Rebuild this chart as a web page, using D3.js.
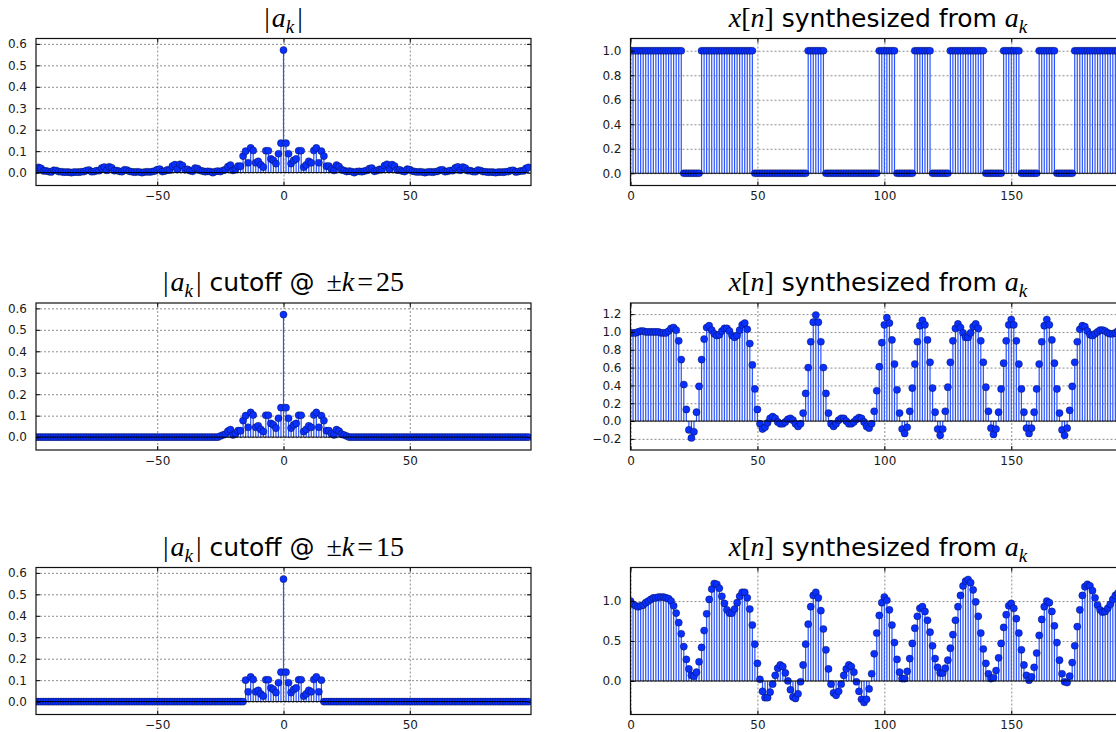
<!DOCTYPE html>
<meta charset="utf-8">
<title>Fourier coefficients and truncated synthesis</title>
<style>
body {
  margin: 0;
  background: #fff;
}
text {
  font-family: "DejaVu Sans", sans-serif;
}
.tick text {
  font-size: 12px;
  fill: #1a1a1a;
}
.grid line {
  stroke: #6e6e6e;
  stroke-width: 0.8;
  stroke-dasharray: 2,2;
}
.grid path, .axis path {
  display: none;
}
.axis line {
  stroke: #000;
}
.title {
  font-size: 25px;
  fill: #000;
}
.math {
  font-family: "Liberation Serif", "DejaVu Serif", serif;
  font-size: 28px;
}
</style>
<body>
<div id="chart"></div>

<script src="https://d3js.org/d3.v7.min.js"></script>
<script>
// Set dimensions
const width = 1116;
const height = 732;

// x[n], n = 0..195: runs of samples equal to 1
const N = 196;
const onesRuns = [[0, 20], [28, 48], [70, 76], [98, 104], [112, 118],
                  [126, 139], [147, 153], [161, 167], [175, 195]];

// |a_k| for k = 0..98 (the spectrum is symmetric, |a_-k| = |a_k|)
const akMag = [
  0.571, 0.137, 0.088, 0.042, 0.057, 0.064, 0.102, 0.102, 0.026, 0.036,
  0.053, 0.046, 0.103, 0.115, 0.046, 0.100, 0.077, 0.030, 0.030, 0.017,
  0.010, 0.035, 0.028, 0.014, 0.010, 0.005, 0.007, 0.005, 0.000, 0.005,
  0.006, 0.004, 0.007, 0.010, 0.019, 0.021, 0.006, 0.009, 0.015, 0.014,
  0.033, 0.039, 0.016, 0.037, 0.030, 0.012, 0.013, 0.007, 0.005, 0.016,
  0.014, 0.007, 0.005, 0.003, 0.004, 0.003, 0.000, 0.003, 0.004, 0.002,
  0.004, 0.006, 0.012, 0.013, 0.004, 0.006, 0.010, 0.009, 0.022, 0.027,
  0.011, 0.026, 0.021, 0.009, 0.009, 0.005, 0.004, 0.012, 0.010, 0.005,
  0.004, 0.002, 0.003, 0.002, 0.000, 0.002, 0.003, 0.002, 0.004, 0.005,
  0.010, 0.011, 0.003, 0.005, 0.008, 0.008, 0.020, 0.024, 0.010
];

// cutoff |k| for each row (null = keep every coefficient)
const cutoffs = [null, 25, 15];

// x[n] synthesized from a_k with |k| <= 25
const synth25 = [
  0.99, 0.99, 0.99, 1.00, 1.01, 1.01, 1.00, 1.00, 1.00, 1.00,
  1.00, 1.00, 0.99, 0.99, 0.99, 1.01, 1.04, 1.05, 1.02, 0.90,
  0.69, 0.41, 0.13, -0.10, -0.19, -0.12, 0.10, 0.39, 0.69, 0.92,
  1.05, 1.07, 1.02, 0.98, 0.96, 0.97, 1.01, 1.04, 1.04, 1.01,
  0.96, 0.94, 0.96, 1.02, 1.08, 1.10, 1.03, 0.87, 0.63, 0.36,
  0.13, -0.03, -0.09, -0.07, -0.02, 0.03, 0.05, 0.03, -0.01, -0.03,
  -0.03, -0.01, 0.02, 0.03, 0.01, -0.03, -0.06, -0.03, 0.09, 0.31,
  0.60, 0.89, 1.11, 1.19, 1.11, 0.89, 0.60, 0.31, 0.09, -0.03,
  -0.06, -0.03, 0.01, 0.03, 0.03, 0.00, -0.03, -0.03, -0.01, 0.02,
  0.04, 0.03, -0.01, -0.06, -0.08, -0.03, 0.11, 0.34, 0.61, 0.88,
  1.08, 1.16, 1.10, 0.91, 0.64, 0.35, 0.09, -0.09, -0.14, -0.07,
  0.11, 0.37, 0.64, 0.89, 1.07, 1.13, 1.08, 0.91, 0.66, 0.37,
  0.10, -0.09, -0.16, -0.09, 0.11, 0.38, 0.66, 0.90, 1.04, 1.09,
  1.05, 0.99, 0.94, 0.94, 0.99, 1.06, 1.09, 1.04, 0.90, 0.66,
  0.38, 0.11, -0.08, -0.15, -0.09, 0.10, 0.36, 0.65, 0.90, 1.08,
  1.14, 1.08, 0.90, 0.64, 0.36, 0.10, -0.08, -0.14, -0.08, 0.10,
  0.36, 0.64, 0.89, 1.07, 1.14, 1.08, 0.91, 0.65, 0.36, 0.09,
  -0.10, -0.16, -0.08, 0.12, 0.39, 0.66, 0.89, 1.03, 1.07, 1.06,
  1.01, 0.97, 0.96, 0.98, 1.00, 1.02, 1.02, 1.01, 0.99, 0.98,
  0.98, 0.99, 1.01, 1.01, 1.01, 1.00
];

// x[n] synthesized from a_k with |k| <= 15
const synth15 = [
  1.00, 0.96, 0.94, 0.93, 0.94, 0.95, 0.98, 1.00, 1.02, 1.04,
  1.04, 1.05, 1.05, 1.05, 1.04, 1.03, 1.00, 0.94, 0.85, 0.73,
  0.59, 0.43, 0.27, 0.15, 0.07, 0.06, 0.11, 0.24, 0.42, 0.63,
  0.84, 1.02, 1.15, 1.22, 1.21, 1.16, 1.06, 0.97, 0.89, 0.85,
  0.85, 0.90, 0.98, 1.06, 1.11, 1.11, 1.04, 0.90, 0.70, 0.46,
  0.22, 0.02, -0.13, -0.21, -0.21, -0.14, -0.04, 0.07, 0.16, 0.20,
  0.18, 0.10, 0.00, -0.11, -0.20, -0.22, -0.16, -0.01, 0.20, 0.46,
  0.71, 0.93, 1.07, 1.11, 1.04, 0.88, 0.65, 0.39, 0.15, -0.04,
  -0.15, -0.18, -0.13, -0.04, 0.07, 0.15, 0.20, 0.18, 0.11, -0.01,
  -0.13, -0.23, -0.27, -0.23, -0.10, 0.09, 0.34, 0.60, 0.82, 0.98,
  1.05, 1.01, 0.89, 0.70, 0.48, 0.27, 0.11, 0.03, 0.03, 0.12,
  0.28, 0.47, 0.66, 0.81, 0.91, 0.93, 0.87, 0.76, 0.61, 0.44,
  0.28, 0.17, 0.10, 0.10, 0.16, 0.26, 0.41, 0.58, 0.76, 0.93,
  1.07, 1.19, 1.25, 1.27, 1.23, 1.14, 0.99, 0.81, 0.60, 0.40,
  0.22, 0.09, 0.03, 0.04, 0.13, 0.29, 0.47, 0.67, 0.83, 0.94,
  0.97, 0.91, 0.78, 0.60, 0.39, 0.20, 0.07, 0.01, 0.05, 0.17,
  0.35, 0.57, 0.77, 0.93, 1.00, 0.98, 0.87, 0.69, 0.48, 0.26,
  0.09, -0.01, -0.02, 0.06, 0.23, 0.44, 0.68, 0.89, 1.07, 1.18,
  1.21, 1.19, 1.13, 1.04, 0.95, 0.89, 0.86, 0.87, 0.91, 0.96,
  1.02, 1.07, 1.10, 1.10, 1.08, 1.04
];

// Axis ticks
const kTicks = [-50, 0, 50];
const nTicks = [0, 50, 100, 150];
const akYTicks = [0, 0.1, 0.2, 0.3, 0.4, 0.5, 0.6];
const xnYTicks = [
  [0, 0.2, 0.4, 0.6, 0.8, 1.0],
  [-0.2, 0, 0.2, 0.4, 0.6, 0.8, 1.0, 1.2],
  [0, 0.5, 1.0]
];

// Layout (pixels)
const leftX0 = 36;
const rightX0 = 630.5;
const axW = 495;
const axH = 147;
const rowTops = [38.5, 303, 567.5];
const akYDomain = [-0.06, 0.625];
const xnYDomains = [[-0.1, 1.1], [-0.325, 1.325], [-0.42, 1.42]];

// Build the sample tables
const xn = d3.range(N).map(n => ({
  i: n,
  v: onesRuns.some(([a, b]) => n >= a && n <= b) ? 1 : 0
}));
const kRange = d3.range(-N / 2, N / 2);
const xnRows = [xn, synth25.map((v, i) => ({i, v})), synth15.map((v, i) => ({i, v}))];

const svg = d3.select("#chart")
  .append("svg")
    .attr("width", width)
    .attr("height", height);

// Title made of sans-serif and math pieces
function title(g, cx, y, parts) {
  const t = g.append("text")
      .attr("class", "title")
      .attr("x", cx)
      .attr("y", y)
      .attr("text-anchor", "middle");
  let shift = 0;
  parts.forEach(p => {
    const s = t.append("tspan").text(p.t);
    let dy = -shift;
    shift = 0;
    if (p.m) s.attr("class", "math");
    if (p.i) s.style("font-style", "italic");
    if (p.dx) s.attr("dx", p.dx);
    if (p.sub) {
      s.style("font-size", "19px");
      dy += 6;
      shift = 6;
    }
    if (dy) s.attr("dy", dy);
  });
}

const akTitle = [{t: "|", m: 1}, {t: "a", m: 1, i: 1, dx: 2}, {t: "k", m: 1, i: 1, sub: 1},
                 {t: "|", m: 1, dx: 3}];
const xnTitle = [{t: "x", m: 1, i: 1}, {t: "[", m: 1}, {t: "n", m: 1, i: 1}, {t: "]", m: 1},
                 {t: " synthesized from "}, {t: "a", m: 1, i: 1}, {t: "k", m: 1, i: 1, sub: 1}];

function stemPanel(x0, y0, data, xDomain, yDomain, xTicks, yTicks, yFmt, titleParts) {
  const x = d3.scaleLinear().domain(xDomain).range([0, axW]);
  const y = d3.scaleLinear().domain(yDomain).range([axH, 0]);
  const g = svg.append("g").attr("transform", `translate(${x0},${y0})`);

  // grid
  g.append("g").attr("class", "grid")
      .call(d3.axisBottom(x).tickValues(xTicks).tickSize(axH).tickFormat(""));
  g.append("g").attr("class", "grid")
      .call(d3.axisLeft(y).tickValues(yTicks).tickSize(-axW).tickFormat(""));

  const clip = ("clip" + x0 + "_" + y0).replace(/\./g, "_");
  g.append("clipPath").attr("id", clip)
    .append("rect").attr("width", axW).attr("height", axH);
  const plot = g.append("g").attr("clip-path", `url(#${clip})`);

  // stems
  plot.selectAll("line.stem")
    .data(data)
    .enter().append("line")
      .attr("class", "stem")
      .attr("x1", d => x(d.i))
      .attr("x2", d => x(d.i))
      .attr("y1", y(0))
      .attr("y2", d => y(d.v))
      .attr("stroke", "#2a52ff")
      .attr("stroke-width", 1.2);

  // markers
  plot.selectAll("circle")
    .data(data)
    .enter().append("circle")
      .attr("cx", d => x(d.i))
      .attr("cy", d => y(d.v))
      .attr("r", 3.6)
      .attr("fill", "#0a30ff")
      .attr("stroke", "#000")
      .attr("stroke-width", 0.6)
      .attr("stroke-opacity", 0.55);

  // baseline
  plot.append("line")
      .attr("x1", x(d3.min(data, d => d.i)))
      .attr("x2", x(d3.max(data, d => d.i)))
      .attr("y1", y(0))
      .attr("y2", y(0))
      .attr("stroke", "#000")
      .attr("stroke-width", 1);

  // inward ticks on all four sides
  g.append("g").attr("class", "axis")
      .attr("transform", `translate(0,${axH})`)
      .call(d3.axisBottom(x).tickValues(xTicks).tickSize(-4).tickPadding(6).tickFormat(d3.format("d")));
  g.append("g").attr("class", "axis")
      .call(d3.axisTop(x).tickValues(xTicks).tickSize(-4).tickFormat(""));
  g.append("g").attr("class", "axis")
      .call(d3.axisLeft(y).tickValues(yTicks).tickSize(-4).tickPadding(9).tickFormat(yFmt));
  g.append("g").attr("class", "axis")
      .attr("transform", `translate(${axW},0)`)
      .call(d3.axisRight(y).tickValues(yTicks).tickSize(-4).tickFormat(""));
  g.selectAll(".axis .tick text").style("font-family", "DejaVu Sans, sans-serif");

  // frame
  g.append("rect")
      .attr("width", axW)
      .attr("height", axH)
      .attr("fill", "none")
      .attr("stroke", "#111")
      .attr("stroke-width", 1.2);

  title(svg, x0 + axW / 2, y0 - 12, titleParts);
}

rowTops.forEach((top, r) => {
  const K = cutoffs[r];
  const akData = kRange.map(k => ({
    i: k,
    v: K === null || Math.abs(k) <= K ? akMag[Math.abs(k)] : 0
  }));
  const leftTitle = K === null ? akTitle : akTitle.concat([
    {t: " cutoff @ "}, {t: "±", m: 1, dx: 4}, {t: "k", m: 1, i: 1},
    {t: "=", m: 1, dx: 3}, {t: String(K), m: 1, dx: 3}
  ]);
  stemPanel(leftX0, top, akData, [-N / 2, N / 2], akYDomain,
            kTicks, akYTicks, d3.format(".1f"), leftTitle);
  stemPanel(rightX0, top, xnRows[r], [0, N - 1], xnYDomains[r],
            nTicks, xnYTicks[r], d3.format(".1f"), xnTitle);
});
</script>
</body>
</html>
